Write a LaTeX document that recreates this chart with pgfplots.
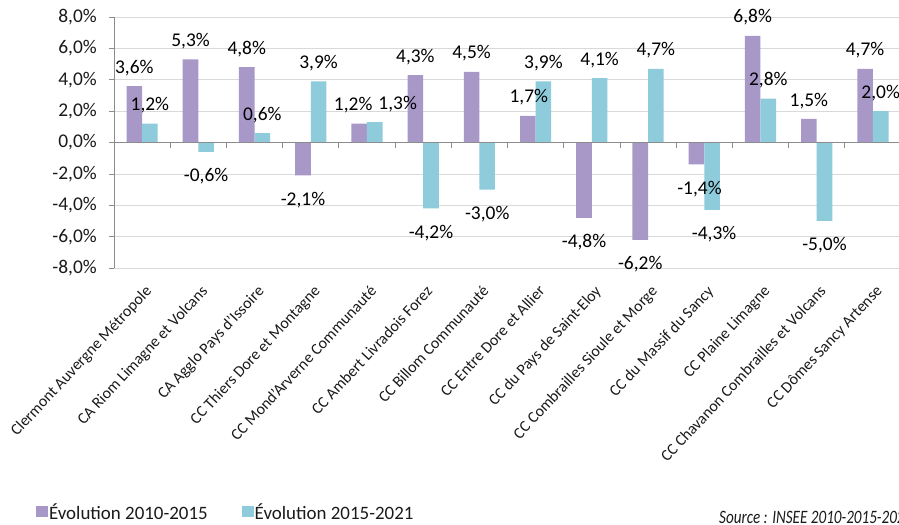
\documentclass[border=0pt]{standalone}
\usepackage{pgfplots}
\pgfplotsset{compat=1.18}
\usepackage{pgfplotstable}
\usepackage{fontspec}
\setmainfont{Carlito}
\definecolor{barP}{HTML}{A898C8}
\definecolor{barB}{HTML}{8ECBDB}
\definecolor{gridc}{HTML}{D9D9D9}
\definecolor{axisc}{HTML}{8C8C8C}
\definecolor{txt}{HTML}{1A1A1A}

\pgfplotstableread{
x  p     b     dxp  dxb
0  3.6   1.2   0    0
1  5.3  -0.6   0    0
2  4.8   0.6   0    0
3  -2.1  3.9   0    0
4  1.2   1.3   -6   23
5  4.3   -4.2  0    0
6  4.5   -3.0  0    0
7  1.7   3.9   1    0
8  -4.8  4.1   0    0
9  -6.2  4.7   0    0
10 -1.4  -4.3  3    2
11 6.8   2.8   0    0
12 1.5   -5.0  0    0
13 4.7   2.0   0    0
}\datatable

\begin{document}
\begin{tikzpicture}
\path[use as bounding box] (0bp,0bp) rectangle (899bp,525bp);
\begin{axis}[
  at={(114bp,257bp)}, anchor=south west,
  scale only axis, width=787bp, height=251bp,
  xmin=-0.5, xmax=13.5, ymin=-8, ymax=8,
  clip=false,
  ybar=0pt, bar width=15.6bp,
  axis x line*=bottom, axis y line*=left,
  axis line style={-},
  x axis line style={draw=none},
  y axis line style={axisc, line width=0.75bp},
  tick align=outside, major tick length=5bp,
  xtick={0,...,13},
  xticklabels={Clermont Auvergne Métropole, CA Riom Limagne et Volcans, CA Agglo Pays d'Issoire, CC Thiers Dore et Montagne, CC Mond'Arverne Communauté, CC Ambert Livradois Forez, CC Billom Communauté, CC Entre Dore et Allier, CC du Pays de Saint-Eloy, CC Combrailles Sioule et Morge, CC du Massif du Sancy, CC Plaine Limagne, CC Chavanon Combrailles et Volcans, CC Dômes Sancy Artense},
  x tick style={draw=none},
  x tick label style={font=\fontsize{16}{16}\selectfont, text=txt, inner sep=0pt, xshift=2bp, yshift=-11bp, rotate=47, anchor=north east},
  ytick={-8,-6,...,8},
  /pgf/number format/assume math mode=true,
  yticklabel={\pgfmathprintnumber[fixed,fixed zerofill,precision=1,use comma]{\tick}\%},
  y tick style={axisc, line width=0.75bp},
  y tick label style={font=\fontsize{19.5}{20}\selectfont, text=txt, inner sep=0pt, anchor=east, xshift=-12bp},
  ymajorgrids, grid style={gridc, line width=0.75bp},
  nodes near coords={\pgfmathprintnumber[fixed,fixed zerofill,precision=1,use comma]{\pgfplotspointmeta}\%},
  visualization depends on={rawy \as \rawy},
  every node near coord/.append style={font=\fontsize{19.5}{20}\selectfont, text=black, inner sep=0pt, anchor=base, xshift={\dx}, yshift={ifthenelse(\rawy<0,-30.1,13)}},
  legend columns=2,
  legend image code/.code={\fill[#1] (0bp,-5bp) rectangle (12bp,6bp);},
  legend style={at={(axis description cs:-0.0991,-0.972)}, anchor=west, draw=none, fill=none, inner sep=0pt, outer sep=0pt,
    font=\fontsize{19}{19}\selectfont, text=txt, nodes={inner sep=1bp},
    /tikz/every even column/.append style={column sep=33bp}},
  legend cell align=left,
]
\addplot[fill=barP, draw=none, visualization depends on={\thisrow{dxp} \as \dx}] table[x=x,y=p]{\datatable};
\addplot[fill=barB, draw=none, visualization depends on={\thisrow{dxb} \as \dx}] table[x=x,y=b]{\datatable};
\legend{Évolution 2010-2015, Évolution 2015-2021}
\end{axis}
\begin{axis}[
  at={(114bp,257bp)}, anchor=south west,
  scale only axis, width=787bp, height=251bp,
  xmin=-0.5, xmax=13.5, ymin=-8, ymax=8,
  axis x line=middle, axis y line=none,
  axis line style={-, axisc, line width=0.75bp},
  xtick={0.5,1.5,...,12.5}, xticklabels={}, ytick=\empty,
  tick align=outside, major tick length=5bp,
  x tick style={axisc, line width=0.75bp},
]
\end{axis}
\node[anchor=base west, inner sep=0pt, font=\fontsize{19}{19}\selectfont\itshape, text=txt] at (719bp,2bp) {\scalebox{0.8}[1]{Source : INSEE 2010-2015-2021}};
\end{tikzpicture}
\end{document}
